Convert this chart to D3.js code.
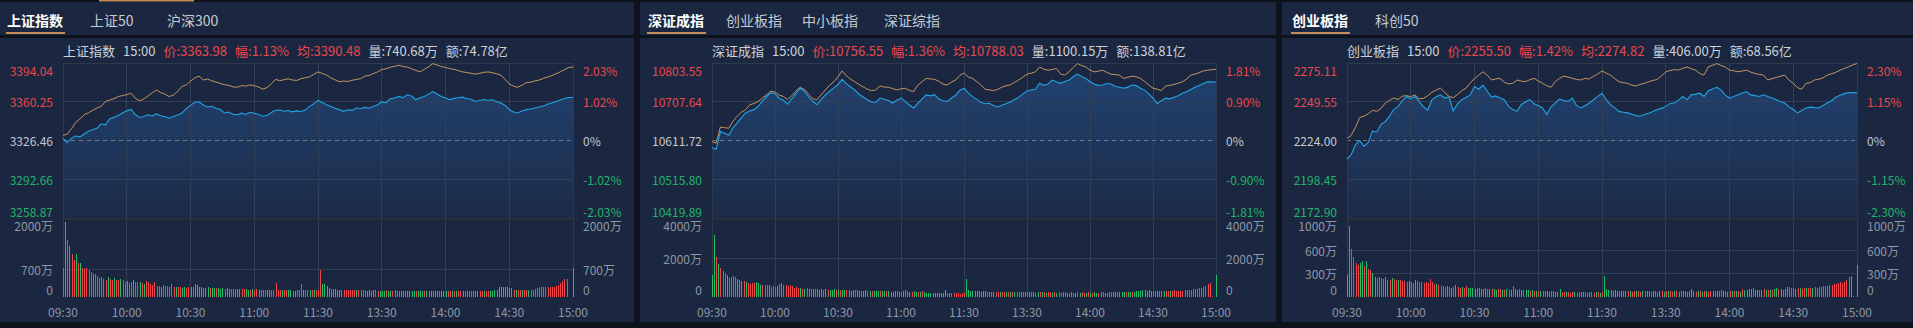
<!DOCTYPE html>
<html>
<head>
<meta charset="utf-8">
<script src="https://cdn.jsdelivr.net/npm/d3@7"></script>
<style>
  html, body { margin: 0; padding: 0; background: #0d121d; }
  svg { display: block; font-family: "Noto Sans CJK SC", "Noto Sans", sans-serif; }
</style>
</head>
<body>
<div id="chart"></div>
<script>
// ---- shared axis data ----
const timeTicks = [0, 30, 60, 90, 120, 150, 180, 210, 240];
const timeLabels = ['09:30', '10:00', '10:30', '11:00', '11:30', '13:30', '14:00', '14:30', '15:00'];

// ---- 上证指数 ----
const shTabs = ['上证指数', '上证50', '沪深300'];
const shInfo = ['上证指数', '15:00', '价:3363.98', '幅:1.13%', '均:3390.48', '量:740.68万', '额:74.78亿'];
const shPriceTicks = [3394.04, 3360.25, 3326.46, 3292.66, 3258.87];
const shPctTicks = ['2.03%', '1.02%', '0%', '-1.02%', '-2.03%'];
const shVolTicks = [2000, 700, 0];
const shVolLabels = ['2000万', '700万', '0'];
// one value every 2 minutes
const shPrice = [
  3328.2,3324.7,3328.5,3330.4,3329.6,3332.1,3334.5,3336.0,3337.2,3341.0,
  3340.1,3345.3,3346.8,3348.2,3350.5,3352.3,3353.6,3349.1,3346.5,3347.4,
  3348.9,3347.8,3349.6,3348.0,3347.1,3345.9,3347.3,3348.6,3350.4,3354.2,
  3357.1,3359.8,3360.2,3357.4,3355.7,3356.3,3354.6,3353.4,3350.5,3351.2,
  3349.4,3349.0,3350.3,3349.2,3351.1,3350.2,3349.1,3347.6,3348.3,3350.9,
  3352.8,3353.1,3352.0,3352.6,3351.4,3352.3,3351.8,3353.0,3356.2,3358.4,
  3361.4,3359.5,3357.7,3356.2,3354.5,3353.4,3351.9,3353.2,3352.7,3354.8,
  3354.1,3355.3,3354.6,3356.2,3357.5,3360.1,3359.4,3362.8,3363.4,3364.9,
  3363.8,3366.3,3365.2,3362.0,3363.7,3364.8,3366.9,3369.1,3367.0,3364.8,
  3363.5,3362.0,3363.2,3363.8,3364.3,3363.1,3362.4,3360.5,3361.3,3362.2,
  3361.6,3362.0,3360.4,3359.1,3357.2,3353.4,3351.3,3350.5,3352.1,3353.4,
  3353.9,3354.8,3355.7,3356.5,3358.0,3359.2,3360.5,3361.7,3363.1,3363.9,
  3364.0
];
const shAvg = [
  3331.0,3331.9,3336.8,3342.4,3345.2,3349.1,3350.6,3352.8,3354.8,3356.3,
  3360.5,3361.8,3362.9,3364.8,3365.6,3366.4,3367.7,3363.4,3361.0,3362.7,
  3365.3,3368.1,3370.5,3368.2,3366.9,3364.8,3366.1,3369.4,3373.6,3374.9,
  3378.2,3381.0,3382.6,3379.2,3380.1,3378.5,3377.4,3376.3,3375.1,3374.6,
  3373.2,3372.9,3374.3,3373.8,3375.0,3374.2,3373.1,3371.2,3372.6,3375.9,
  3379.8,3378.6,3379.5,3380.2,3379.2,3378.8,3380.4,3381.2,3382.0,3384.1,
  3386.3,3384.9,3383.5,3381.2,3379.4,3377.7,3378.3,3377.9,3379.0,3379.6,
  3380.4,3382.6,3383.1,3384.8,3386.2,3388.4,3388.9,3390.3,3391.2,3392.1,
  3391.0,3390.5,3389.1,3387.6,3386.3,3388.4,3390.7,3393.5,3392.3,3391.0,
  3390.1,3389.2,3388.5,3387.4,3386.3,3385.7,3385.1,3384.3,3385.0,3385.9,
  3386.3,3385.6,3384.7,3383.5,3379.8,3375.7,3373.9,3372.9,3374.6,3376.9,
  3377.2,3378.4,3379.1,3380.6,3381.8,3383.0,3384.6,3386.3,3388.2,3390.1,
  3390.5
];
// per minute, 万手; positive = up minute, negative = down minute
const shVol = [
  752,-1923,1470,-1299,1094,957,-1094,880,-880,744,
  718,744,700,632,-598,581,530,487,513,470,
  427,-513,470,444,-478,427,427,-453,427,385,
  -400,359,385,-444,385,376,-385,359,-342,402,
  385,325,299,385,
  290,275,-268,300,282,270,262,325,258,-250,
  246,262,-240,-255,238,244,-250,252,-342,-298,
  -265,-250,240,-232,-244,228,-236,-222,218,-226,
  -215,-222,210,-218,-205,212,-208,200,-214,-204,
  210,198,-206,-190,188,-196,182,214,-190,-185,
  180,192,-176,-184,178,170,359,186,180,-176,
  168,176,-182,-170,164,-164,172,176,325,-178,
  188,170,-174,168,-176,172,180,700,-325,-325,
  -270,-230,-214,-205,-196,-190,-182,-186,
  190,178,186,174,182,176,-170,180,172,168,
  176,-166,-172,164,-170,168,160,-165,-158,-162,
  170,-164,-160,156,-168,-160,162,-154,-158,150,
  -156,-162,-150,-158,152,-160,-148,-154,156,-150,
  -158,-146,-152,-156,-148,150,-154,-146,-150,152,
  148,-144,156,-152,150,146,-150,154,-148,144,
  152,-146,150,-142,148,154,-146,150,160,-148,
  -166,-172,-180,-258,-256,-250,-246,-252,-240,-224,
  178,-170,185,176,-168,172,180,-175,186,190,
  205,238,246,252,256,258,255,262,250,265,
  270,300,359,402,453,462,0,0,-752
];

// ---- 深证成指 ----
const szTabs = ['深证成指', '创业板指', '中小板指', '深证综指'];
const szInfo = ['深证成指', '15:00', '价:10756.55', '幅:1.36%', '均:10788.03', '量:1100.15万', '额:138.81亿'];
const szPriceTicks = [10803.55, 10707.64, 10611.72, 10515.80, 10419.89];
const szPctTicks = ['1.81%', '0.90%', '0%', '-0.90%', '-1.81%'];
const szVolTicks = [4000, 2000, 0];
const szVolLabels = ['4000万', '2000万', '0'];
const szPrice = [
  10594.6,10590.0,10634.0,10629.5,10624.6,10643.4,10655.6,10668.2,10680.0,10684.6,
  10688.1,10696.2,10709.3,10720.6,10730.1,10727.4,10716.0,10711.2,10701.5,10714.8,
  10728.3,10741.1,10733.5,10719.4,10708.2,10700.3,10713.7,10724.9,10733.6,10742.0,
  10750.2,10763.0,10752.4,10744.1,10737.0,10726.3,10719.2,10712.5,10707.1,10705.8,
  10716.7,10713.9,10710.6,10704.5,10711.2,10716.7,10708.4,10699.6,10692.3,10703.8,
  10714.1,10724.7,10722.3,10725.0,10714.6,10710.2,10708.4,10716.3,10723.8,10735.4,
  10741.0,10729.6,10720.3,10714.2,10706.1,10702.8,10704.0,10698.1,10694.7,10699.2,
  10702.6,10707.3,10712.4,10718.4,10726.5,10734.1,10736.9,10738.6,10753.3,10748.2,
  10751.4,10761.3,10757.0,10753.3,10757.8,10761.3,10769.4,10776.0,10770.1,10765.5,
  10757.2,10751.6,10748.3,10749.1,10752.7,10751.6,10745.9,10743.5,10741.1,10743.8,
  10749.1,10747.6,10741.1,10735.8,10727.2,10716.4,10702.8,10710.3,10716.7,10714.9,
  10718.9,10722.6,10728.9,10732.4,10737.8,10743.5,10747.9,10752.6,10757.2,10756.9,
  10756.55
];
const szAvg = [
  10609.3,10605.0,10645.2,10643.4,10642.1,10659.6,10671.8,10681.5,10688.1,10700.3,
  10703.2,10708.4,10716.9,10724.7,10734.0,10731.6,10724.1,10720.6,10713.2,10722.4,
  10734.5,10743.5,10738.1,10726.3,10715.0,10712.5,10724.8,10736.9,10748.3,10757.2,
  10769.6,10784.0,10772.1,10763.4,10757.2,10750.4,10744.3,10738.6,10735.1,10736.9,
  10746.7,10744.0,10743.5,10740.2,10736.9,10739.5,10741.1,10735.6,10732.8,10748.4,
  10757.2,10765.5,10764.1,10763.0,10758.6,10751.4,10749.0,10756.2,10761.3,10772.5,
  10779.1,10768.9,10765.5,10757.8,10749.6,10738.6,10737.0,10735.2,10738.1,10743.5,
  10747.2,10749.0,10755.3,10761.3,10768.4,10776.0,10778.2,10781.6,10793.8,10788.1,
  10785.7,10787.4,10789.8,10776.2,10773.5,10781.6,10792.4,10802.0,10797.1,10793.8,
  10786.0,10781.6,10783.4,10785.7,10780.3,10776.0,10774.8,10773.5,10765.5,10768.2,
  10771.0,10769.3,10765.5,10758.0,10749.0,10741.3,10738.6,10735.2,10746.7,10748.1,
  10750.4,10753.3,10757.0,10763.8,10773.5,10776.0,10779.8,10784.0,10785.6,10787.2,
  10788.0
];
const szVol = [
  -1130,-3165,2052,-1704,1478,1357,1252,-1130,957,1043,
  1096,1043,-922,-870,-835,817,-783,696,661,696,
  730,-748,-696,-626,609,626,591,-609,522,557,
  522,-557,661,-696,609,591,557,609,557,487,
  522,
  470,-452,435,-418,452,-426,400,-435,417,-400,
  -383,-400,370,-392,383,-365,-383,-400,348,-365,
  350,-383,-365,340,-348,-330,-348,360,-339,-322,
  330,-313,-348,304,-322,296,-313,-330,-305,318,
  -296,-288,305,-296,-280,-280,-287,296,-278,270,
  -288,383,300,-270,262,-287,-262,270,-253,296,
  -244,-226,-218,-209,-217,-210,-226,-209,-217,-209,
  -348,187,-200,191,183,200,187,178,192,196,
  -922,-348,-313,-296,-305,-287,-296,-279,-288,-287,
  270,261,278,-253,262,270,-261,252,261,-270,
  253,-261,244,-252,261,244,-235,252,-244,235,
  -244,252,-261,226,-235,244,-252,235,-226,244,
  235,-226,244,-218,235,226,-244,235,-226,218,
  -235,226,-218,235,-226,244,218,-226,235,-218,
  226,-235,-218,226,-244,235,-226,218,-235,244,
  -252,-261,244,-270,-261,-252,270,-261,-278,261,
  -270,-287,-296,-305,-348,-339,-330,-348,-322,287,
  296,-287,305,296,-287,313,322,-305,330,339,
  305,313,322,330,339,348,365,383,400,417,
  435,452,470,505,557,661,730,52,0,-1130
];

// ---- 创业板指 ----
const cyTabs = ['创业板指', '科创50'];
const cyInfo = ['创业板指', '15:00', '价:2255.50', '幅:1.42%', '均:2274.82', '量:406.00万', '额:68.56亿'];
const cyPriceTicks = [2275.11, 2249.55, 2224.00, 2198.45, 2172.90];
const cyPctTicks = ['2.30%', '1.15%', '0%', '-1.15%', '-2.30%'];
const cyVolTicks = [1000, 600, 300, 0];
const cyVolLabels = ['1000万', '600万', '300万', '0'];
const cyPrice = [
  2211.8,2214.6,2221.3,2223.9,2220.1,2222.8,2230.2,2229.5,2234.6,2236.4,
  2240.1,2244.4,2246.3,2250.2,2253.0,2251.4,2253.0,2249.6,2246.2,2244.1,
  2251.0,2252.9,2254.1,2252.0,2252.7,2243.5,2248.1,2250.9,2252.4,2254.1,
  2259.6,2257.8,2260.6,2256.5,2252.6,2253.4,2252.0,2250.9,2246.5,2244.4,
  2243.2,2247.6,2249.5,2250.9,2248.3,2247.1,2245.5,2241.1,2246.2,2248.7,
  2251.5,2250.3,2249.8,2252.0,2247.0,2245.5,2246.9,2248.7,2250.9,2253.1,
  2255.2,2250.9,2247.6,2245.5,2243.2,2242.6,2242.2,2241.3,2240.4,2240.0,
  2241.1,2242.0,2243.2,2244.4,2245.2,2246.5,2248.3,2248.7,2250.6,2253.0,
  2250.9,2254.1,2254.6,2255.2,2253.0,2256.9,2258.0,2259.1,2257.4,2253.9,
  2252.0,2253.0,2254.1,2255.3,2256.3,2254.1,2253.6,2253.0,2254.1,2253.0,
  2252.1,2250.9,2249.6,2248.7,2246.2,2244.4,2242.2,2243.8,2245.5,2246.0,
  2245.7,2245.5,2247.1,2248.7,2250.2,2252.6,2253.8,2254.9,2255.6,2255.7,
  2255.5
];
const cyAvg = [
  2225.3,2227.4,2232.8,2239.2,2240.0,2241.6,2243.9,2243.2,2245.1,2248.7,
  2250.5,2252.0,2251.0,2253.2,2253.6,2252.9,2254.1,2251.5,2251.8,2253.6,
  2255.9,2257.3,2258.5,2255.7,2253.1,2252.2,2254.3,2256.9,2258.5,2262.1,
  2264.8,2267.1,2269.3,2267.1,2263.9,2264.6,2265.0,2262.4,2261.3,2261.7,
  2263.9,2263.2,2262.8,2264.1,2265.0,2263.3,2261.7,2260.2,2259.1,2262.8,
  2265.0,2266.5,2265.8,2265.0,2264.3,2263.9,2265.0,2264.6,2266.3,2267.8,
  2269.9,2268.4,2267.1,2264.8,2262.8,2262.1,2261.7,2260.5,2260.0,2261.0,
  2261.7,2262.8,2263.6,2264.3,2266.5,2269.3,2270.1,2270.8,2270.4,2271.6,
  2272.5,2271.3,2270.4,2268.2,2267.1,2272.5,2273.6,2274.7,2273.5,2272.5,
  2270.4,2270.0,2269.3,2269.8,2270.4,2269.1,2268.2,2267.6,2267.1,2263.9,
  2264.8,2265.6,2266.4,2267.1,2263.8,2261.7,2258.9,2257.8,2261.7,2262.2,
  2263.9,2264.4,2265.3,2267.1,2268.0,2268.9,2270.4,2271.5,2272.6,2273.8,
  2274.8
];
const cyVol = [
  -280,-912,611,507,439,409,-430,-464,396,-464,
  353,344,-310,-258,249,258,249,237,-258,224,
  215,-249,237,224,-215,215,206,206,198,-206,
  194,181,-215,206,198,194,181,194,181,228,
  194,172,-163,151,146,138,
  129,-138,125,-120,129,-155,133,120,-125,116,
  138,-116,-112,-120,-107,116,-112,-107,103,-112,
  107,-103,99,-107,-95,103,99,-95,90,-99,
  95,-90,138,-99,-95,103,-90,95,-86,-90,
  82,-86,77,-82,73,-77,73,78,-73,70,
  73,-78,65,-69,-103,65,60,-64,60,56,
  64,-60,56,60,-64,-69,60,56,64,60,
  56,-60,64,-56,60,-271,-103,-86,-90,-82,
  -86,-77,82,-73,77,-82,73,-77,69,78,
  -73,77,69,-73,82,-77,73,69,-77,73,
  69,-73,77,-69,73,-82,77,69,-73,77,
  -69,73,-77,78,-69,73,-103,-77,69,-73,
  77,-69,73,-77,69,73,-77,82,-73,77,
  86,-77,73,-69,77,-73,82,-77,73,-69,
  99,-86,-95,-103,-99,112,-95,-90,86,-95,
  99,-86,90,-95,86,-103,-112,107,-99,90,
  -103,-133,125,116,120,-107,112,-116,107,120,
  -112,116,120,-116,125,120,129,133,138,142,
  146,150,155,163,172,181,189,185,
  194,224,258,-267,13,0,-408
];

// ---- style / layout ----
const C = {
  gap: '#0d121d', panel: '#1b2740', border: '#2f394c', grid: '#323f56',
  sep: '#2a2f39', dash: '#6e7788', red: '#e8474c', green: '#20b46b',
  mid: '#c3c7cf', axis: '#8d96a5', tab: '#c6cbd4', under: '#c18c55',
  info: '#cdd1d9', blue: '#22a3e5', tan: '#c39562',
  barUp: '#f0464a', barDown: '#21bf6b'
};
const Y = { top: 63, mid: 218, volTop: 219, bottom: 297, xLab: 311 };

const panels = [
  { tabs: shTabs, info: shInfo, priceTicks: shPriceTicks, pctTicks: shPctTicks,
    volTicks: shVolTicks, volLabels: shVolLabels, price: shPrice, avg: shAvg, vol: shVol,
    x0: 0, x1: 634, left: 63, right: 573, tabX: [7, 90, 167] },
  { tabs: szTabs, info: szInfo, priceTicks: szPriceTicks, pctTicks: szPctTicks,
    volTicks: szVolTicks, volLabels: szVolLabels, price: szPrice, avg: szAvg, vol: szVol,
    x0: 640, x1: 1276, left: 712, right: 1216, tabX: [8, 86, 162, 244] },
  { tabs: cyTabs, info: cyInfo, priceTicks: cyPriceTicks, pctTicks: cyPctTicks,
    volTicks: cyVolTicks, volLabels: cyVolLabels, price: cyPrice, avg: cyAvg, vol: cyVol,
    x0: 1282, x1: 1913, left: 1347, right: 1857, tabX: [10, 93] }
];

const svg = d3.select('#chart').append('svg')
  .attr('width', 1913).attr('height', 328);

svg.append('rect').attr('width', 1913).attr('height', 328).attr('fill', C.gap);
// highlight of the page nav above
svg.append('rect').attr('x', 99).attr('y', 0).attr('width', 95).attr('height', 1.5).attr('fill', C.under);

const defs = svg.append('defs');

panels.forEach((p, n) => drawPanel(p, n));

function labelColor(k, len) {
  const c = Math.floor(len / 2);
  return k < c ? C.red : (k === c ? C.mid : C.green);
}

function drawPanel(p, n) {
  const g = svg.append('g');
  const w = p.x1 - p.x0;

  // header and body boxes
  g.append('rect').attr('x', p.x0).attr('y', 2).attr('width', w).attr('height', 33).attr('fill', C.panel);
  g.append('rect').attr('x', p.x0).attr('y', 38).attr('width', w).attr('height', 284).attr('fill', C.panel);

  // tabs
  p.tabs.forEach((t, k) => {
    const txt = g.append('text')
      .attr('x', p.x0 + p.tabX[k]).attr('y', 20)
      .attr('dominant-baseline', 'central')
      .attr('font-size', 14)
      .attr('font-weight', k === 0 ? 700 : 400)
      .attr('fill', k === 0 ? '#ffffff' : C.tab)
      .text(t);
    if (k === 0) {
      const tw = txt.node().getComputedTextLength();
      g.append('rect').attr('x', p.x0 + p.tabX[k] - 1).attr('y', 32)
        .attr('width', tw + 3).attr('height', 2).attr('fill', C.under);
    }
  });

  // info line
  const info = g.append('text').attr('x', p.left).attr('y', 50)
    .attr('dominant-baseline', 'central').attr('font-size', 13);
  p.info.forEach((s, k) => {
    info.append('tspan').attr('dx', k === 0 ? 0 : 8)
      .attr('fill', (k >= 2 && k <= 4) ? C.red : C.info)
      .text(s);
  });

  // scales
  const x = d3.scaleLinear().domain([0, 240]).range([p.left, p.right]);
  const y = d3.scaleLinear().domain(d3.extent(p.priceTicks)).range([Y.mid, Y.top]);
  const yv = d3.scaleLinear().domain([0, d3.max(p.volTicks)]).range([Y.bottom, Y.volTop]);
  const preClose = p.priceTicks[2];

  // gradient area under price
  const gid = 'grad' + n;
  const grad = defs.append('linearGradient').attr('id', gid)
    .attr('gradientUnits', 'userSpaceOnUse')
    .attr('x1', 0).attr('y1', Y.top).attr('x2', 0).attr('y2', Y.mid);
  grad.append('stop').attr('offset', 0).attr('stop-color', '#2a6ab8').attr('stop-opacity', 0.42);
  grad.append('stop').attr('offset', 1).attr('stop-color', '#2a6ab8').attr('stop-opacity', 0.06);

  const area = d3.area()
    .x((d, j) => x(j * 2))
    .y0(Y.mid)
    .y1(d => y(d));
  g.append('path').datum(p.price).attr('d', area).attr('fill', `url(#${gid})`);

  // horizontal grid (price)
  g.selectAll('.hg').data(p.priceTicks.filter((d, k) => k !== 0 && k !== 2 && k !== p.priceTicks.length - 1))
    .join('line')
    .attr('x1', p.left).attr('x2', p.right)
    .attr('y1', d => y(d)).attr('y2', d => y(d))
    .attr('stroke', C.grid).attr('stroke-width', 1)
    .attr('shape-rendering', 'crispEdges');

  // horizontal grid (volume)
  g.selectAll('.vg').data(p.volTicks.filter((d, k) => k !== 0 && d !== 0))
    .join('line')
    .attr('x1', p.left).attr('x2', p.right)
    .attr('y1', d => yv(d)).attr('y2', d => yv(d))
    .attr('stroke', C.grid).attr('stroke-width', 1)
    .attr('shape-rendering', 'crispEdges');

  // vertical grid
  g.selectAll('.tg').data(timeTicks.slice(1, -1))
    .join('line')
    .attr('x1', d => x(d)).attr('x2', d => x(d))
    .attr('y1', Y.top).attr('y2', Y.bottom)
    .attr('stroke', C.grid).attr('stroke-width', 1)
    .attr('shape-rendering', 'crispEdges');

  // zero line
  g.append('line')
    .attr('x1', p.left).attr('x2', p.right)
    .attr('y1', y(preClose)).attr('y2', y(preClose))
    .attr('stroke', C.dash).attr('stroke-width', 1)
    .attr('stroke-dasharray', '4,4')
    .attr('shape-rendering', 'crispEdges');

  // borders
  g.append('line').attr('x1', p.left).attr('x2', p.right).attr('y1', Y.top).attr('y2', Y.top)
    .attr('stroke', C.border).attr('shape-rendering', 'crispEdges');
  [p.left, p.right].forEach(bx => {
    g.append('line').attr('x1', bx).attr('x2', bx).attr('y1', Y.top).attr('y2', Y.bottom)
      .attr('stroke', C.border).attr('shape-rendering', 'crispEdges');
  });
  g.append('line').attr('x1', p.left).attr('x2', p.right).attr('y1', Y.mid + 1).attr('y2', Y.mid + 1)
    .attr('stroke', C.sep).attr('stroke-width', 2);

  // lines
  const line = d3.line().x((d, j) => x(j * 2)).y(d => y(d));
  g.append('path').datum(p.avg).attr('d', line)
    .attr('fill', 'none').attr('stroke', C.tan).attr('stroke-width', 1);
  g.append('path').datum(p.price).attr('d', line)
    .attr('fill', 'none').attr('stroke', C.blue).attr('stroke-width', 1.1);

  // volume bars, thin 1px sticks
  g.selectAll('.bar').data(p.vol)
    .join('rect')
    .attr('x', (d, i) => Math.round(x(i)))
    .attr('width', 1)
    .attr('y', d => yv(Math.abs(d)))
    .attr('height', d => Y.bottom - yv(Math.abs(d)))
    .attr('fill', d => d >= 0 ? C.barUp : C.barDown)
    .attr('shape-rendering', 'crispEdges');

  // price labels
  const nT = p.priceTicks.length;
  p.priceTicks.forEach((v, k) => {
    const off = k === 0 ? 7 : (k === nT - 1 ? -7 : 0);
    g.append('text').attr('x', p.left - 10).attr('y', y(v) + off)
      .attr('text-anchor', 'end').attr('dominant-baseline', 'central')
      .attr('font-size', 12).attr('fill', labelColor(k, nT))
      .text(v.toFixed(2));
    g.append('text').attr('x', p.right + 10).attr('y', y(v) + off)
      .attr('text-anchor', 'start').attr('dominant-baseline', 'central')
      .attr('font-size', 12).attr('fill', labelColor(k, nT))
      .text(p.pctTicks[k]);
  });

  // volume labels
  const nV = p.volTicks.length;
  p.volTicks.forEach((v, k) => {
    const off = k === 0 ? 6 : (k === nV - 1 ? -8 : 0);
    [[p.left - 10, 'end'], [p.right + 10, 'start']].forEach(([lx, anc]) => {
      g.append('text').attr('x', lx).attr('y', yv(v) + off)
        .attr('text-anchor', anc).attr('dominant-baseline', 'central')
        .attr('font-size', 12).attr('fill', C.axis)
        .text(p.volLabels[k]);
    });
  });

  // time axis labels
  g.selectAll('.tl').data(timeTicks)
    .join('text')
    .attr('x', d => x(d)).attr('y', Y.xLab)
    .attr('text-anchor', 'middle').attr('dominant-baseline', 'central')
    .attr('font-size', 12).attr('fill', C.axis)
    .text((d, k) => timeLabels[k]);
}
</script>
</body>
</html>
